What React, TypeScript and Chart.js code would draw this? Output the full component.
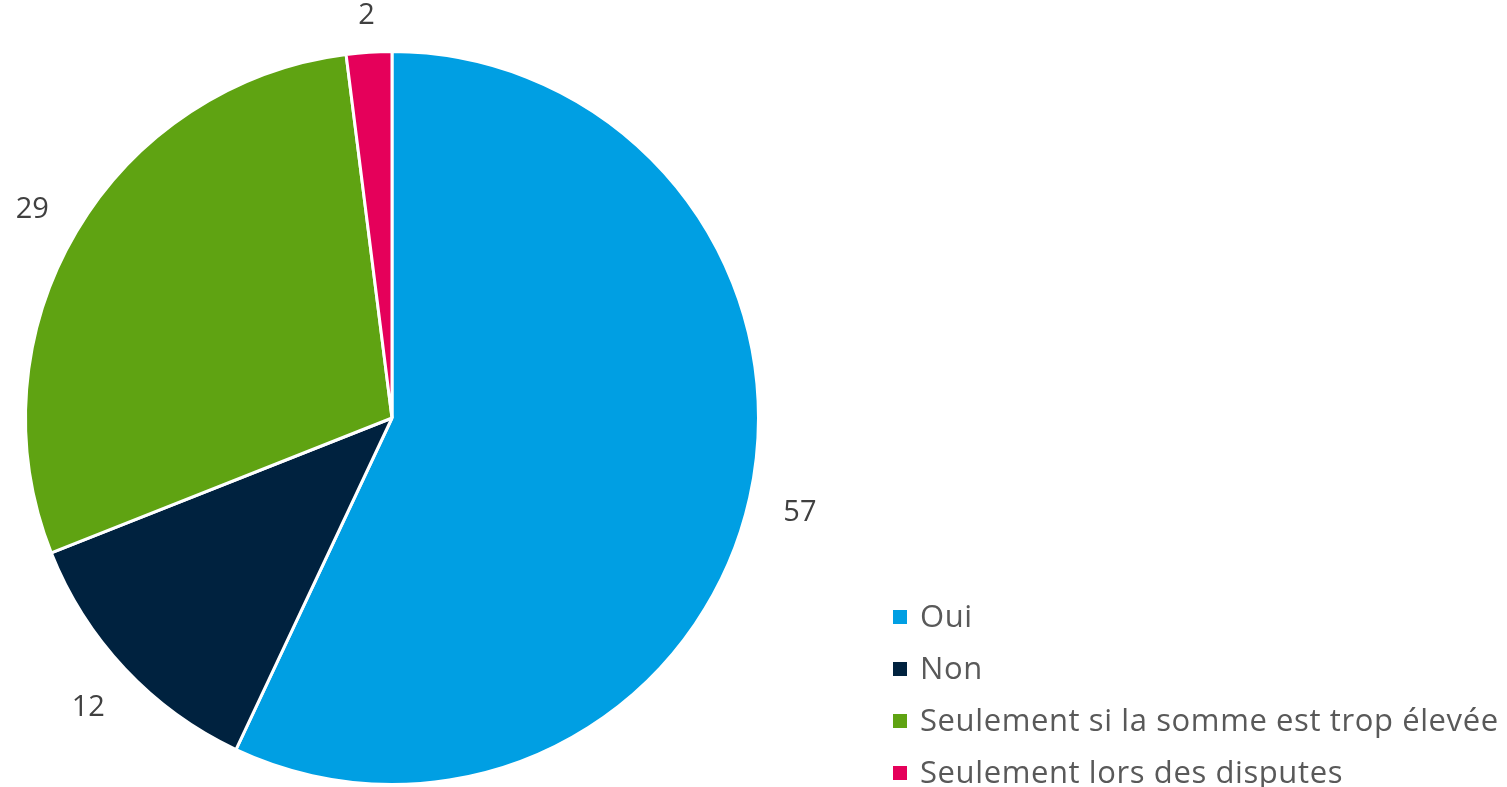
import React, { useEffect, useRef } from "react";
import { Chart, registerables } from "chart.js";

Chart.register(...registerables);

const categories = [
  "Oui",
  "Non",
  "Seulement si la somme est trop élevée",
  "Seulement lors des disputes",
];
const values = [57, 12, 29, 2];
const colors = ["#009FE3", "#00223F", "#5FA312", "#E5005A"];

const FONT = "'Open Sans', Lato, sans-serif";

const labelPlugin = {
  id: "outsideLabels",
  afterDraw(chart: any) {
    const ctx = chart.ctx;
    const meta = chart.getDatasetMeta(0);
    ctx.save();
    ctx.font = `29px ${FONT}`;
    ctx.fillStyle = "#404040";
    ctx.textAlign = "center";
    ctx.textBaseline = "middle";
    meta.data.forEach((arc: any, i: number) => {
      const p = arc.getProps(["x", "y", "startAngle", "endAngle", "outerRadius"], true);
      const mid = (p.startAngle + p.endAngle) / 2;
      const txt = String(values[i]);
      const w = ctx.measureText(txt).width;
      const h = 12;
      const c = Math.cos(mid);
      const s = Math.sin(mid);
      const off = 34 + Math.abs(c) * w / 2 + Math.abs(s) * h / 2;
      const r = p.outerRadius + off;
      ctx.fillText(txt, p.x + c * r, p.y + s * r + 4);
    });
    // legend
    ctx.textAlign = "left";
    ctx.font = `31px ${FONT}`;
    try {
      (ctx as any).letterSpacing = "0.6px";
    } catch (e) {}
    const lx = 893;
    let ly = 617;
    categories.forEach((cat, i) => {
      ctx.fillStyle = colors[i];
      ctx.fillRect(lx, ly - 7, 14, 14);
      ctx.fillStyle = "#595959";
      ctx.fillText(cat, lx + 27, ly + 1);
      ly += 52;
    });
    ctx.restore();
  },
};

export default function App() {
  const ref = useRef<HTMLCanvasElement | null>(null);
  useEffect(() => {
    document.body.style.margin = "0";
    const chart = new Chart(ref.current!, {
      type: "pie",
      data: {
        labels: categories,
        datasets: [
          {
            data: values,
            backgroundColor: colors,
            borderColor: "#FFFFFF",
            borderWidth: 3,
          },
        ],
      },
      options: {
        responsive: false,
        animation: false,
        layout: { padding: { left: 24, top: 50, right: 747, bottom: 1 } },
        plugins: {
          legend: { display: false },
          tooltip: { enabled: false },
        },
      },
      plugins: [labelPlugin],
    });
    return () => chart.destroy();
  }, []);
  return (
    <div style={{ width: 1507, height: 787, background: "#fff" }}>
      <canvas ref={ref} width={1507} height={787} style={{ display: "block" }} />
    </div>
  );
}
